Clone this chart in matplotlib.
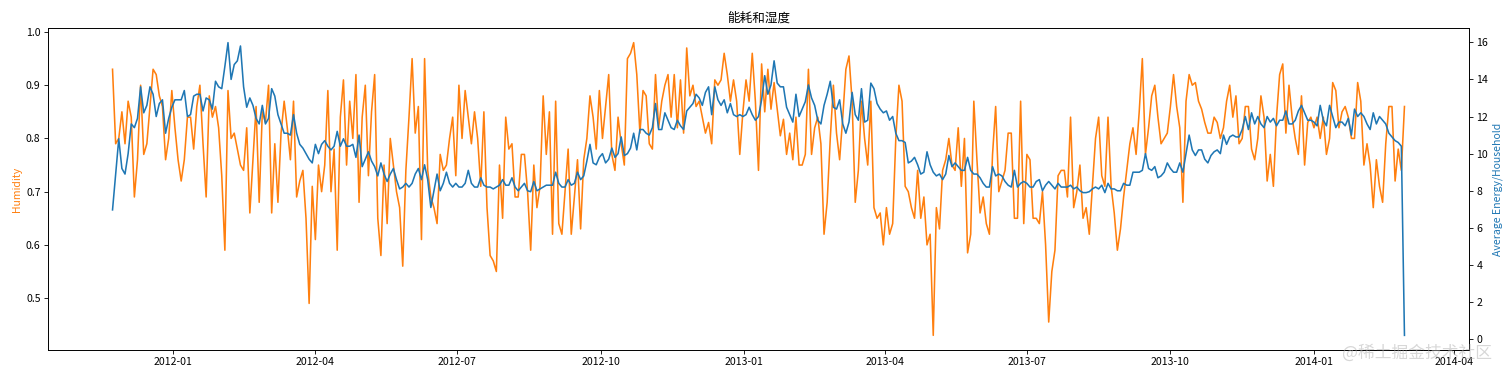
import numpy as np
import pandas as pd
import matplotlib
matplotlib.use("Agg")
import matplotlib.pyplot as plt

plt.rcParams['font.family'] = ['Noto Sans CJK SC', 'DejaVu Sans']
plt.rcParams['axes.unicode_minus'] = False

# one sample every two days, 2011-11-23 .. 2014-02-28
dates = pd.date_range('2011-11-23', '2014-02-28', freq='2D')

humidity = [
    0.93, 0.79, 0.80, 0.85, 0.79, 0.87, 0.84, 0.69, 0.76, 0.90,
    0.77, 0.79, 0.86, 0.93, 0.92, 0.88, 0.86, 0.76, 0.80, 0.89,
    0.82, 0.76, 0.72, 0.76, 0.84, 0.84, 0.78, 0.86, 0.90, 0.79,
    0.69, 0.88, 0.84, 0.86, 0.82, 0.73, 0.59, 0.89, 0.80, 0.81,
    0.78, 0.75, 0.74, 0.82, 0.66, 0.76, 0.86, 0.68, 0.85, 0.83,
    0.90, 0.66, 0.79, 0.68, 0.81, 0.87, 0.82,
    0.76, 0.87, 0.69, 0.72, 0.74, 0.65, 0.49, 0.71, 0.61, 0.75,
    0.70, 0.75, 0.89, 0.70, 0.78, 0.59, 0.84, 0.91, 0.75, 0.87,
    0.80, 0.92, 0.68, 0.84, 0.90, 0.73, 0.85, 0.92, 0.65, 0.58,
    0.75, 0.64, 0.80, 0.75, 0.70, 0.67, 0.56, 0.74, 0.84, 0.95,
    0.81, 0.86, 0.61, 0.95, 0.74, 0.69, 0.67, 0.64, 0.77, 0.74,
    0.75, 0.80, 0.84, 0.73, 0.90, 0.80, 0.89, 0.84, 0.79, 0.85,
    0.80, 0.71, 0.85, 0.67, 0.58, 0.57, 0.55, 0.75, 0.65, 0.84,
    0.78, 0.79, 0.69, 0.69, 0.77, 0.77, 0.70, 0.59,
    0.75, 0.67, 0.71, 0.88, 0.77, 0.85, 0.62, 0.87, 0.64, 0.62,
    0.70, 0.78, 0.62, 0.69, 0.76, 0.63, 0.76, 0.80, 0.88, 0.84,
    0.78, 0.89, 0.80, 0.86, 0.92, 0.77, 0.74, 0.84, 0.79, 0.75,
    0.95, 0.96, 0.98, 0.92, 0.81, 0.89, 0.88, 0.79, 0.78, 0.92,
    0.82, 0.87, 0.90, 0.92, 0.84, 0.92, 0.82, 0.91, 0.81, 0.97,
    0.88, 0.90, 0.86, 0.87, 0.84, 0.81, 0.83, 0.79, 0.91, 0.90,
    0.91, 0.96, 0.92, 0.87, 0.91, 0.87, 0.77, 0.85, 0.91, 0.87,
    0.96, 0.87, 0.74, 0.94, 0.85, 0.93,
    0.855, 0.905, 0.855, 0.805, 0.836, 0.77, 0.81, 0.76, 0.84, 0.75,
    0.75, 0.77, 0.93, 0.77, 0.82, 0.84, 0.79, 0.62, 0.68, 0.80,
    0.90, 0.81, 0.76, 0.84, 0.93, 0.955, 0.87, 0.68, 0.74, 0.87,
    0.80, 0.75, 0.87, 0.67, 0.65, 0.66, 0.60, 0.67, 0.62, 0.64,
    0.80, 0.90, 0.87, 0.71, 0.70, 0.67, 0.65, 0.74, 0.65, 0.69,
    0.60, 0.62, 0.43, 0.67, 0.63, 0.74, 0.76, 0.80, 0.75, 0.74,
    0.82, 0.71, 0.80, 0.585, 0.62, 0.87, 0.76, 0.66, 0.69, 0.64,
    0.62, 0.77, 0.86, 0.70, 0.72, 0.74, 0.81,
    0.81, 0.65, 0.65, 0.87, 0.64, 0.77, 0.76, 0.65, 0.65, 0.64,
    0.70, 0.60, 0.455, 0.55, 0.59, 0.73, 0.74, 0.74, 0.69, 0.84,
    0.67, 0.70, 0.75, 0.65, 0.67, 0.62, 0.71, 0.80, 0.84, 0.73,
    0.71, 0.84, 0.71, 0.66, 0.59, 0.63, 0.69, 0.74, 0.79, 0.82,
    0.77, 0.85, 0.95, 0.77, 0.82, 0.88, 0.90, 0.84, 0.79, 0.80,
    0.81, 0.86, 0.92, 0.86, 0.82, 0.68, 0.87, 0.92, 0.90, 0.905,
    0.87, 0.855, 0.83, 0.81, 0.81, 0.84, 0.83, 0.80, 0.82, 0.87,
    0.90, 0.84, 0.88, 0.79, 0.80, 0.86, 0.86,
    0.78, 0.76, 0.80, 0.88, 0.84, 0.72, 0.77, 0.71, 0.84, 0.92,
    0.94, 0.81, 0.90, 0.84, 0.80, 0.77, 0.88, 0.75, 0.83, 0.84,
    0.82, 0.84, 0.80, 0.84, 0.77, 0.80, 0.905, 0.89, 0.82, 0.85,
    0.86, 0.84, 0.80, 0.80, 0.905, 0.87, 0.75, 0.79, 0.75, 0.67,
    0.76, 0.71, 0.68, 0.79, 0.86, 0.86, 0.72, 0.78, 0.74, 0.86,
]

energy = [
    6.97, 8.9, 10.8, 9.2, 8.9, 10.0, 11.6, 11.4, 11.9, 13.6,
    12.2, 12.6, 13.6, 13.2, 12.0, 12.7, 12.9, 11.1, 11.9, 12.5,
    12.9, 12.9, 12.9, 13.4, 12.0, 12.1, 13.1, 13.2, 13.2, 12.3,
    13.0, 12.9, 12.4, 13.9, 13.6, 13.5, 14.7, 15.98, 14.0, 14.8,
    15.0, 15.8, 13.6, 12.5, 13.0, 12.6, 11.9, 11.6, 12.6, 11.6,
    11.9, 13.5, 13.1, 12.1, 11.6, 11.1, 11.1,
    11.0, 12.1, 11.1, 10.5, 10.3, 10.0, 9.7, 9.5, 10.5, 10.0,
    10.5, 10.7, 10.4, 10.2, 10.4, 11.2, 10.4, 10.8, 10.4, 10.4,
    10.5, 9.8, 11.0, 9.3, 9.7, 10.1, 9.6, 9.3, 8.8, 9.5,
    8.9, 8.5, 8.9, 9.2, 8.6, 8.1, 8.2, 8.4, 8.2, 8.4,
    8.9, 9.2, 8.6, 9.4, 8.6, 7.1, 8.0, 8.9, 8.0, 8.4,
    9.0, 8.4, 8.2, 8.4, 8.2, 8.2, 8.4, 9.1, 8.4, 8.2,
    8.2, 8.7, 8.3, 8.2, 8.2, 8.1, 8.2, 8.3, 8.6, 8.3,
    8.3, 8.7, 8.2, 8.0, 8.2, 8.4, 8.0, 7.95,
    8.5, 8.0, 8.1, 8.2, 8.3, 8.3, 8.3, 9.0, 8.4, 8.2,
    8.2, 8.6, 8.3, 8.4, 9.0, 8.6, 8.8, 9.6, 10.5, 9.5,
    9.4, 9.8, 10.0, 9.5, 9.7, 10.3, 9.8, 10.0, 10.9, 9.9,
    10.0, 10.3, 11.1, 10.2, 11.3, 11.3, 11.1, 11.0, 11.4, 12.7,
    11.3, 11.3, 12.2, 11.8, 11.4, 11.3, 11.8, 11.5, 11.3, 12.3,
    12.5, 12.7, 13.2, 13.0, 12.6, 13.3, 13.6, 12.1, 13.6, 12.9,
    12.6, 12.9, 12.2, 12.7, 12.1, 12.0, 12.1, 12.0, 12.1, 12.5,
    12.1, 11.8, 12.0, 12.9, 14.2, 13.2,
    13.7, 15.0, 13.8, 13.6, 13.6, 12.5, 12.1, 11.7, 13.2, 12.0,
    12.4, 12.8, 13.7, 13.0, 12.6, 11.8, 11.6, 12.6, 13.2, 13.9,
    12.5, 12.4, 12.9, 11.6, 11.1, 11.7, 13.3, 12.1, 11.8, 13.5,
    11.7, 11.8, 13.8, 13.5, 12.7, 12.4, 12.2, 12.3, 11.8, 12.0,
    11.1, 10.7, 10.7, 10.6, 9.5, 9.6, 9.8, 9.4, 8.9, 9.0,
    10.1, 9.4, 9.0, 8.8, 8.9, 8.6, 8.9, 9.9, 9.3, 9.5,
    9.3, 9.1, 9.1, 9.8, 9.1, 8.9, 8.9, 8.7, 8.4, 8.2,
    8.2, 9.3, 8.8, 8.9, 8.8, 8.5, 8.3,
    8.2, 9.1, 8.2, 8.4, 8.5, 8.4, 8.2, 8.2, 8.5, 8.6,
    8.0, 8.3, 8.5, 8.3, 8.1, 8.4, 8.2, 8.2, 8.2, 8.3,
    8.1, 8.2, 8.0, 7.9, 7.9, 7.95, 8.1, 8.2, 8.1, 8.3,
    7.9, 8.4, 8.1, 8.1, 8.0, 8.0, 8.4, 8.3, 8.3, 9.0,
    9.0, 9.0, 9.1, 10.0, 9.2, 9.1, 9.3, 8.7, 8.8, 9.0,
    9.5, 9.2, 9.0, 9.0, 9.5, 9.0, 10.0, 11.0, 10.2, 9.9,
    10.2, 10.2, 9.7, 9.5, 9.9, 10.1, 10.2, 10.0, 11.0, 10.5,
    10.9, 11.0, 10.9, 10.9, 11.3, 12.0, 11.3,
    12.2, 11.6, 12.0, 11.6, 11.4, 12.0, 11.7, 11.9, 11.5, 11.8,
    11.8, 12.3, 11.6, 11.6, 11.8, 12.3, 12.6, 12.2, 11.8, 11.8,
    11.7, 11.5, 12.6, 11.8, 11.5, 12.6, 12.0, 11.4, 11.7, 11.7,
    11.5, 11.9, 11.0, 12.4, 12.0, 12.2, 12.0, 11.6, 11.3, 12.2,
    11.6, 12.0, 11.8, 11.6, 11.1, 10.9, 10.7, 10.6, 10.4, 0.21,
]

fig = plt.figure(figsize=(20, 5), dpi=75.6)
ax1 = fig.add_axes([0.0317, 0.0741, 0.9399, 0.8518])
ax1.plot(dates, humidity, color='tab:orange')
ax1.set_ylabel('Humidity', color='tab:orange')

ax2 = ax1.twinx()
ax2.plot(dates, energy, color='tab:blue')
ax2.set_ylabel('Average Energy/Household', color='tab:blue')

ax1.set_title('能耗和湿度')

# site watermark (sits over the last date tick, as in the source image)
fig.text(0.987, 0.066, '@稀土掘金技术社区', ha='right', va='center',
         fontsize=16, color='#b0b0b0', alpha=0.5)

fig.savefig('out.png', dpi=75.6)
